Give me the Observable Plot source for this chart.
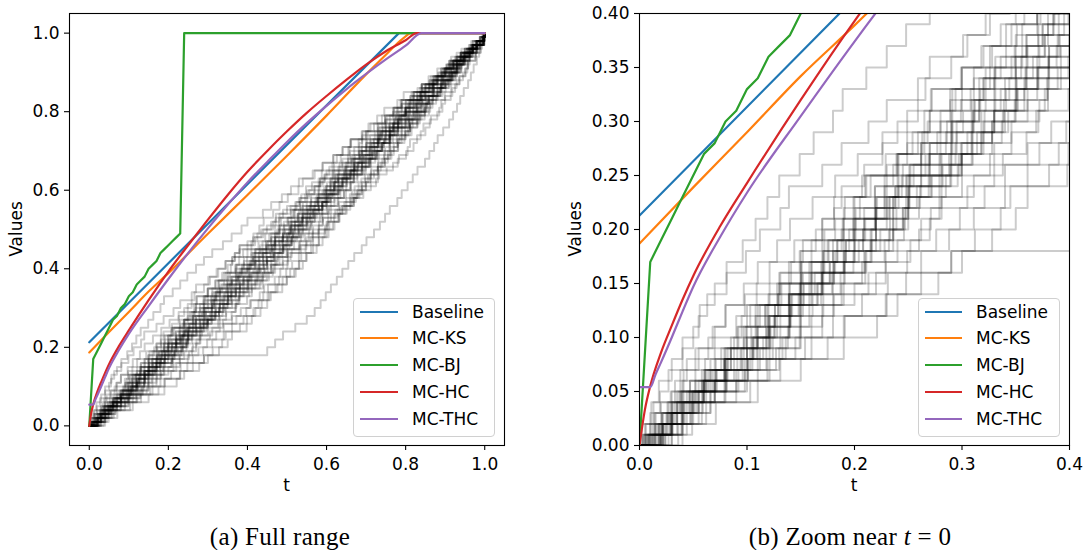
<!DOCTYPE html>
<html><head><meta charset="utf-8">
<script src="https://cdn.jsdelivr.net/npm/d3@7"></script>
<script src="https://cdn.jsdelivr.net/npm/@observablehq/plot@0.6"></script>
<style>
body{margin:0;background:#fff;}
#wrap{position:relative;width:1090px;height:550px;overflow:hidden;background:#fff;font-family:"DejaVu Sans",sans-serif;}
.panel{position:absolute;top:0;}
.lbl{position:absolute;font-size:17px;color:#000;white-space:nowrap;text-align:center;line-height:20px;}
.cap{position:absolute;font-family:"Liberation Serif",serif;font-size:25px;letter-spacing:0.3px;white-space:nowrap;text-align:center;line-height:25px;color:#000;}
.legend{position:absolute;border:1px solid #d0d0d0;border-radius:4px;background:rgba(255,255,255,0.8);box-sizing:border-box;}
.legend .row{position:absolute;left:0;height:20px;line-height:20px;font-size:17px;color:#000;white-space:nowrap;}
</style></head><body><div id="wrap"></div>
<script>
// ---------- series ----------
const seriesNames = ["Baseline", "MC-KS", "MC-BJ", "MC-HC", "MC-THC"];
const seriesColors = ["#1f77b4", "#ff7f0e", "#2ca02c", "#d62728", "#9467bd"];

const baselineT = [0, 0.783, 1];
const baselineV = [0.213, 1, 1];

const ksT = [0, 0.05, 0.1, 0.15, 0.2, 0.3, 0.4, 0.5, 0.6, 0.7, 0.75, 0.78, 0.8, 0.812, 1];
const ksV = [0.187, 0.239, 0.290, 0.342, 0.389, 0.489, 0.588, 0.688, 0.79, 0.895, 0.945, 0.975, 0.992, 1, 1];

const bjT = [0, 0.01, 0.02, 0.03, 0.04, 0.05, 0.06, 0.07, 0.08, 0.09, 0.10, 0.11, 0.12, 0.13, 0.14, 0.15, 0.16, 0.17, 0.18, 0.19, 0.20, 0.21, 0.22, 0.23, 0.24, 1];
const bjV = [0, 0.17, 0.19, 0.21, 0.23, 0.25, 0.27, 0.28, 0.30, 0.31, 0.33, 0.34, 0.36, 0.37, 0.38, 0.40, 0.41, 0.42, 0.44, 0.45, 0.46, 0.47, 0.48, 0.49, 1, 1];

const hcT = [0, 0.005, 0.01, 0.02, 0.03, 0.04, 0.05, 0.075, 0.1, 0.15, 0.2, 0.25, 0.3, 0.35, 0.4, 0.45, 0.5, 0.55, 0.6, 0.65, 0.7, 0.75, 0.8, 0.828, 1];
const hcV = [0, 0.033, 0.055, 0.086, 0.111, 0.135, 0.157, 0.203, 0.243, 0.32, 0.393, 0.46, 0.525, 0.588, 0.647, 0.70, 0.75, 0.797, 0.84, 0.881, 0.92, 0.954, 0.982, 1, 1];

const thcT = [0, 0.01, 0.015, 0.02, 0.03, 0.04, 0.05, 0.075, 0.1, 0.15, 0.2, 0.25, 0.3, 0.35, 0.4, 0.45, 0.5, 0.55, 0.6, 0.65, 0.7, 0.75, 0.8, 0.84, 1];
const thcV = [0.054, 0.054, 0.066, 0.077, 0.10, 0.124, 0.147, 0.193, 0.234, 0.305, 0.374, 0.44, 0.503, 0.563, 0.62, 0.672, 0.723, 0.771, 0.815, 0.857, 0.896, 0.933, 0.968, 1, 1];

// ---------- gray sample paths: step positions (thousandths of t) at each level ----------
const levelsEven = [0.02,0.04,0.06,0.08,0.10,0.12,0.14,0.16,0.18,0.20,0.22,0.24,0.26,0.28,0.30,0.32,0.34,0.36,0.38,0.40,0.42,0.44,0.46,0.48,0.50,0.52,0.54,0.56,0.58,0.60,0.62,0.64,0.66,0.68,0.70,0.72,0.74,0.76,0.78,0.80,0.82,0.84,0.86,0.88,0.90,0.92,0.94,0.96,0.98,1.00];
const levelsOdd = [0.01,0.03,0.05,0.07,0.09,0.11,0.13,0.15,0.17,0.19,0.21,0.23,0.25,0.27,0.29,0.31,0.33,0.35,0.37,0.39,0.41,0.43,0.45,0.47,0.49,0.51,0.53,0.55,0.57,0.59,0.61,0.63,0.65,0.67,0.69,0.71,0.73,0.75,0.77,0.79,0.81,0.83,0.85,0.87,0.89,0.91,0.93,0.95,0.97,0.99];

const grayPathsEven = [
[18,31,62,88,115,139,150,187,211,232,247,281,296,330,346,372,379,401,425,434,450,477,483,502,515,541,549,570,597,605,618,640,662,668,691,715,731,742,770,784,806,812,845,867,891,905,931,950,979,997],
[22,47,60,101,136,160,181,213,229,260,271,305,330,361,383,409,440,452,480,498,513,530,547,566,580,602,611,634,650,664,681,697,713,731,746,760,778,790,809,824,840,859,873,896,912,928,944,962,980,999],
[14,40,58,80,106,121,139,150,172,188,201,219,236,249,268,289,311,336,360,385,410,428,459,487,510,535,558,580,601,629,641,660,677,690,714,729,747,761,780,796,810,832,846,868,885,902,925,941,970,994],
[30,62,90,119,154,180,207,231,262,288,311,340,361,390,415,436,451,476,499,518,531,550,566,581,600,616,630,648,661,678,690,711,729,747,764,781,797,815,830,848,862,877,893,910,924,938,951,969,984,999],
[19,42,70,96,121,139,152,170,191,208,220,238,255,270,291,316,340,366,391,415,440,466,491,513,540,561,583,606,628,649,661,678,694,711,728,742,760,775,790,808,826,844,860,881,900,921,940,959,979,998],
[21,33,70,79,109,126,161,170,209,224,245,251,282,294,309,316,344,350,377,385,408,414,447,460,475,492,528,535,572,590,620,629,668,681,709,722,759,766,806,820,846,853,887,894,918,931,956,962,988,999],
[36,58,103,131,175,191,229,248,290,312,336,345,381,399,420,428,455,471,489,508,530,536,561,580,595,607,631,640,665,678,699,705,730,741,755,770,784,806,811,832,851,858,882,900,915,926,948,955,981,998],
[2,13,18,30,40,55,63,81,99,112,131,139,170,188,213,230,259,270,305,326,344,368,380,419,440,465,472,509,530,551,563,594,607,640,659,683,690,730,748,776,790,819,836,860,891,915,928,955,970,997],
[12,20,47,61,88,95,120,131,150,164,181,188,209,226,240,259,266,290,301,322,345,368,380,414,435,460,481,500,533,556,582,596,630,655,682,700,733,749,780,804,829,836,868,889,909,930,937,962,979,998],
[17,26,52,71,97,120,129,163,180,208,219,241,252,280,295,312,320,346,360,380,405,418,450,470,495,512,540,556,590,615,640,651,688,706,732,759,768,799,818,836,851,866,880,902,918,940,948,970,988,999],
[5,11,33,44,64,90,98,130,149,172,190,219,230,262,286,309,320,355,377,400,420,448,462,490,515,529,540,566,578,600,619,625,650,664,682,701,710,735,751,768,790,812,830,861,882,905,915,949,966,996],
[24,50,79,110,145,170,180,220,249,276,298,321,340,372,397,406,431,442,469,483,501,509,535,549,565,581,590,611,630,644,661,670,699,712,728,740,762,771,798,812,830,841,866,880,903,922,931,958,977,999],
[10,35,47,79,106,128,139,171,190,220,245,258,289,310,337,361,380,411,435,464,490,502,531,560,580,600,619,640,669,693,712,730,752,780,801,820,829,850,861,880,893,900,918,929,945,956,962,978,987,998],
[30,41,70,98,124,140,148,179,199,216,239,250,281,300,328,350,370,399,420,444,460,469,491,512,530,549,558,581,600,615,636,650,671,699,718,740,751,780,809,828,850,859,889,908,927,941,950,969,985,999],
[22,48,60,101,133,150,171,180,210,236,250,261,290,309,328,349,358,381,400,420,441,460,489,510,535,559,570,601,620,644,660,669,690,708,723,739,748,771,782,800,820,829,856,870,891,910,929,950,975,997],
[40,71,110,150,190,221,240,278,300,328,350,361,398,411,433,450,459,488,500,522,540,548,575,590,605,620,633,651,669,683,700,711,730,748,760,780,790,810,829,840,855,869,886,900,918,933,945,965,980,999],
[20,55,80,121,160,190,230,262,290,450,470,490,521,550,570,585,598,611,626,640,655,670,689,701,720,735,748,760,779,790,805,818,830,849,860,872,881,895,910,920,930,938,947,958,965,972,980,986,993,998],
[18,35,60,82,110,125,141,160,182,200,219,230,251,270,290,311,330,350,371,395,418,440,462,480,505,520,539,560,578,595,610,629,648,661,685,709,729,750,771,790,811,830,850,871,895,915,936,955,979,998],
[6,27,40,66,85,108,129,150,171,195,220,238,262,290,310,330,351,380,400,425,449,466,490,511,530,551,570,590,611,635,650,668,690,709,725,741,760,779,801,820,838,856,872,891,910,928,945,960,981,998],
[15,30,55,79,100,121,142,170,190,215,230,251,270,299,320,339,350,370,389,405,420,439,455,470,490,509,526,540,561,580,601,622,645,670,690,711,735,760,781,805,829,850,870,891,915,930,946,962,980,998],
[22,40,59,80,105,120,139,152,171,190,209,228,245,262,280,299,316,331,350,370,391,410,432,460,480,505,528,550,577,600,621,645,670,690,715,736,759,781,800,825,845,860,880,900,920,935,949,965,980,998]
];

const grayPathsOdd = [
[9,26,41,66,82,97,103,128,141,160,182,199,207,240,263,270,294,311,320,341,358,362,389,410,425,449,471,490,521,546,569,584,617,640,668,681,712,729,758,780,800,826,841,870,894,918,930,955,981,998],
[6,21,35,52,70,91,108,130,151,180,201,233,251,288,309,330,352,381,403,429,460,474,499,530,545,566,590,604,631,659,671,688,712,730,746,762,781,799,811,832,848,862,881,901,915,930,942,961,979,996],
[11,29,51,70,100,122,140,169,191,216,233,250,272,299,314,330,341,360,372,390,405,421,436,452,470,482,501,519,533,551,570,584,600,619,636,658,681,704,731,752,778,801,829,850,876,899,921,946,970,997],
[4,15,29,41,55,68,80,97,110,128,140,161,182,203,226,249,271,299,326,351,373,399,421,448,470,493,511,530,559,580,599,615,632,651,672,689,703,722,741,760,781,800,822,841,864,890,911,939,966,992],
[5,31,38,72,91,120,126,165,177,204,236,248,285,297,328,343,380,392,431,449,466,502,512,549,565,596,604,622,660,674,690,725,733,768,783,805,811,838,845,864,885,890,914,925,936,952,958,977,990,998],
[3,29,37,64,76,104,112,149,158,184,199,236,244,281,295,318,322,350,361,375,386,413,419,447,455,479,485,510,524,536,548,580,588,615,626,655,662,699,706,728,746,787,795,840,858,880,921,929,974,990],
[24,30,59,81,103,110,141,153,181,192,220,228,262,279,305,321,358,371,402,425,442,450,481,506,520,527,553,566,589,600,624,630,655,671,686,699,720,735,750,772,800,807,836,851,873,896,915,940,962,996],
[15,49,66,100,130,149,158,190,207,228,246,260,271,300,318,330,351,370,388,405,425,431,458,470,490,509,538,552,589,610,633,641,678,699,723,748,760,790,812,836,859,868,899,915,936,950,958,976,989,999],
[27,35,66,90,112,138,150,188,210,240,262,281,300,338,360,371,399,411,439,454,470,481,502,518,535,556,563,588,600,620,631,652,663,689,700,722,730,758,769,788,799,825,838,866,882,905,921,947,968,995],
[8,40,55,98,127,150,170,200,229,252,270,279,311,326,346,369,377,404,420,439,460,489,501,533,555,580,591,628,645,669,688,699,720,737,755,770,779,800,811,828,849,855,878,890,906,926,935,961,979,998],
[20,44,53,92,118,131,149,160,181,200,209,230,241,262,277,291,300,322,341,356,370,391,400,428,445,470,480,515,540,561,580,590,615,633,654,670,690,700,729,748,771,790,819,841,870,890,911,938,960,994],
[13,22,49,60,85,109,117,150,170,192,220,236,269,290,318,340,361,389,410,439,451,470,488,500,525,540,549,575,590,605,620,640,651,677,691,716,730,760,781,808,829,840,870,889,912,930,939,963,980,998],
[19,28,55,68,94,110,117,140,160,176,190,205,215,239,254,270,289,300,328,346,370,379,410,438,460,481,503,519,550,575,599,610,644,670,695,708,729,740,768,784,801,810,838,860,879,900,918,941,970,995],
[9,30,39,61,79,92,100,121,139,152,170,191,210,240,259,280,291,326,349,371,390,415,430,469,490,508,520,540,561,580,594,610,620,648,663,689,700,731,760,780,801,820,849,870,897,915,930,952,971,998],
[14,40,49,80,100,118,126,150,169,184,200,221,240,270,291,310,331,359,381,410,429,440,466,481,500,511,530,545,570,585,609,621,660,680,705,720,745,761,790,816,833,841,870,889,906,924,935,960,980,999],
[7,14,30,38,52,70,80,109,121,144,170,181,211,229,249,265,272,300,318,336,350,361,380,400,415,430,441,465,481,502,529,540,570,590,617,641,660,689,711,740,768,779,815,841,870,895,910,940,969,994],
[3,10,19,27,40,50,56,70,81,96,108,119,130,149,162,180,189,211,230,248,270,290,311,338,360,385,400,439,460,487,510,530,565,590,617,640,661,691,720,748,770,790,821,850,876,900,920,949,970,996],
[12,30,44,71,95,118,131,158,177,200,210,232,249,266,285,301,317,330,356,375,399,418,440,466,490,511,533,552,580,600,619,631,659,672,695,709,730,741,768,785,800,821,839,858,880,899,920,940,966,987],
[8,25,39,58,80,99,110,132,150,170,189,200,228,241,265,290,308,331,360,380,401,429,448,471,500,519,540,566,589,610,628,640,661,680,700,712,733,750,771,790,810,833,851,870,895,911,930,949,970,988],
[20,39,50,81,105,121,140,166,190,215,236,250,279,300,320,338,350,371,392,410,430,449,466,490,505,520,538,561,580,595,611,630,648,669,685,702,719,738,760,775,799,815,840,861,880,901,922,945,969,988],
[10,21,46,62,85,100,119,139,160,175,199,220,248,269,290,311,336,360,381,405,431,449,470,496,515,530,550,570,589,605,629,650,669,690,710,728,745,761,781,800,819,836,850,871,890,910,929,950,971,988]
];

// ticks
const fullTicks = [0, 0.2, 0.4, 0.6, 0.8, 1.0];
const zoomXTicks = [0, 0.1, 0.2, 0.3, 0.4];
const zoomYTicks = [0, 0.05, 0.10, 0.15, 0.20, 0.25, 0.30, 0.35, 0.40];

// ---------- build tables ----------
const grayRows = [];
let pid = 0;
function addPaths(paths, levels) {
  paths.forEach(p => {
    grayRows.push({path: pid, t: 0, v: 0});
    p.forEach((s, j) => grayRows.push({path: pid, t: s / 1000, v: levels[j]}));
    grayRows.push({path: pid, t: 1, v: 1});
    pid++;
  });
}
addPaths(grayPathsEven, levelsEven);
addPaths(grayPathsOdd, levelsOdd);

const zip = (T, V) => T.map((t, i) => ({t, v: V[i]}));
const series = [
  {data: zip(baselineT, baselineV), curve: "linear"},
  {data: zip(ksT, ksV), curve: "monotone-x"},
  {data: zip(bjT, bjV), curve: "linear"},
  {data: zip(hcT, hcV), curve: "monotone-x"},
  {data: zip(thcT, thcV), curve: "monotone-x"}
];

function panel(o) {
  return Plot.plot({
    width: o.width, height: 500,
    marginLeft: o.ml, marginRight: o.mr, marginTop: 13, marginBottom: 55,
    x: {domain: o.xd}, y: {domain: o.yd},
    style: {fontFamily: "DejaVu Sans", fontSize: "17px", color: "#000", background: "#fff"},
    marks: [
      Plot.line(grayRows, {x: "t", y: "v", z: "path", curve: "step-after", stroke: "#000", strokeOpacity: 0.2, strokeWidth: 2, clip: true}),
      ...series.map((s, i) => Plot.line(s.data, {x: "t", y: "v", curve: s.curve, stroke: seriesColors[i], strokeWidth: 2.2, clip: true})),
      Plot.frame({stroke: "#000", strokeWidth: 1.1}),
      Plot.axisX({ticks: o.xt, tickFormat: d3.format(o.xf), tickSize: 5, tickPadding: 7, label: null, strokeWidth: 1.1}),
      Plot.axisY({ticks: o.yt, tickFormat: d3.format(o.yf), tickSize: 5, tickPadding: 5, label: null, strokeWidth: 1.1})
    ]
  });
}

const wrap = document.getElementById("wrap");
function place(el, left) { el.classList.add("panel"); el.style.left = left + "px"; wrap.appendChild(el); }

const L = {left: 0, width: 540, ml: 69, mr: 36};
const R = {left: 540, width: 550, ml: 99, mr: 21};

place(panel({width: L.width, ml: L.ml, mr: L.mr, xd: [-0.05, 1.05], yd: [-0.05, 1.05], xt: fullTicks, yt: fullTicks, xf: ".1f", yf: ".1f"}), L.left);
place(panel({width: R.width, ml: R.ml, mr: R.mr, xd: [0, 0.4], yd: [0, 0.4], xt: zoomXTicks, yt: zoomYTicks, xf: ".1f", yf: ".2f"}), R.left);

function text(cls, html, left, top, width, extra) {
  const d = document.createElement("div");
  d.className = cls; d.innerHTML = html;
  d.style.left = left + "px"; d.style.top = top + "px"; d.style.width = width + "px";
  if (extra) Object.assign(d.style, extra);
  wrap.appendChild(d); return d;
}
// axis labels
const lFrame = [L.left + L.ml, L.left + L.width - L.mr];
const rFrame = [R.left + R.ml, R.left + R.width - R.mr];
text("lbl", "t", (lFrame[0] + lFrame[1]) / 2 - 20, 475, 40);
text("lbl", "t", (rFrame[0] + rFrame[1]) / 2 - 20, 475, 40);
text("lbl", "Values", 15.5 - 40, 229 - 10, 80, {transform: "rotate(-90deg)"});
text("lbl", "Values", 575 - 40, 229 - 10, 80, {transform: "rotate(-90deg)"});
// captions
text("cap", "(a) Full range", 280 - 150, 524, 300);
text("cap", "(b) Zoom near <i>t</i> = 0", 850 - 150, 524, 300);

// legends
function legend(right, swL, swR, txL) {
  const w = 142, h = 139;
  const box = document.createElement("div");
  box.className = "legend";
  box.style.left = (right - w) + "px"; box.style.top = "298px";
  box.style.width = w + "px"; box.style.height = h + "px";
  seriesNames.forEach((n, i) => {
    const cy = 13.7 + 26.7 * i;
    const row = document.createElement("div");
    row.className = "row"; row.style.top = (cy - 10 - 1) + "px"; row.style.width = w + "px";
    row.innerHTML = `<svg width="${w}" height="20" style="position:absolute;left:0;top:0"><line x1="${swL}" x2="${swR}" y1="10" y2="10" stroke="${seriesColors[i]}" stroke-width="2.2"/></svg><span style="position:absolute;left:${txL}px;top:0">${n}</span>`;
    box.appendChild(row);
  });
  wrap.appendChild(box);
}
legend(lFrame[1] - 9, 6, 44, 58);
legend(rFrame[1] - 9, 6, 43, 57);
</script></body></html>
